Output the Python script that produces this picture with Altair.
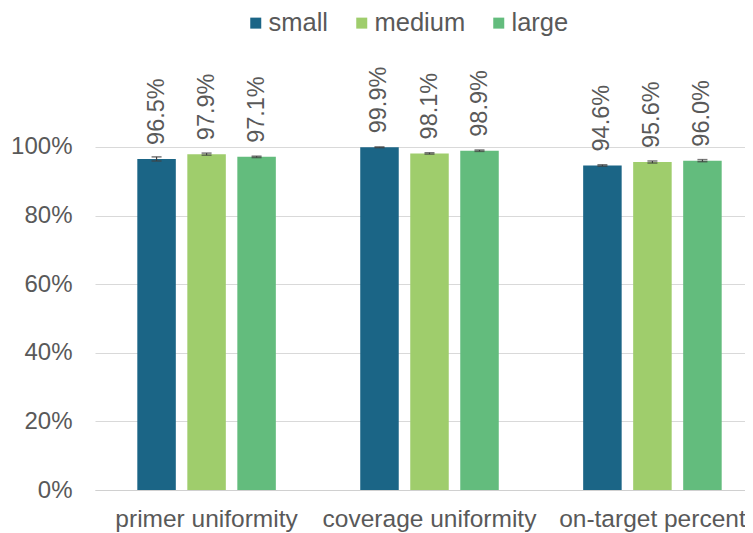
import altair as alt
import pandas as pd

categories = ["primer uniformity", "coverage uniformity", "on-target percent"]
sizes = ["small", "medium", "large"]
small_vals = [0.965, 0.999, 0.946]
medium_vals = [0.979, 0.981, 0.956]
large_vals = [0.971, 0.989, 0.960]
small_err = [0.006, 0.001, 0.002]
medium_err = [0.003, 0.002, 0.003]
large_err = [0.002, 0.002, 0.003]
colors = ["#1b6586", "#9fcd6c", "#63bc7d"]

rows = []
for s, vals, errs in zip(sizes, [small_vals, medium_vals, large_vals], [small_err, medium_err, large_err]):
    for c, v, e in zip(categories, vals, errs):
        rows.append({"category": c, "size": s, "value": v, "lo": v - e, "hi": v + e,
                     "label": f"{v*100:.1f}%"})
df = pd.DataFrame(rows)

FONT = "Liberation Sans"
GRAY = "#595959"

x = alt.X("category:N", sort=categories,
          scale=alt.Scale(paddingInner=0.327, paddingOuter=0.164, range=[0, 669]),
          axis=alt.Axis(title=None, labelAngle=0, labelFontSize=24.5, labelColor=GRAY,
                        labelFont=FONT, ticks=False, grid=False, domainColor="#d0d0d0",
                        labelPadding=17, labelLimit=0))
xo = alt.XOffset("size:N", sort=sizes, scale=alt.Scale(paddingInner=0.23, paddingOuter=0.115))
y_scale = alt.Scale(domain=[0, 1.3], nice=False)

base = alt.Chart(df)

bars = base.mark_bar().encode(
    x=x, xOffset=xo,
    y=alt.Y("value:Q", scale=y_scale,
            axis=alt.Axis(title=None, values=[0, 0.2, 0.4, 0.6, 0.8, 1.0], format=".0%",
                          labelFontSize=24, labelColor=GRAY, labelFont=FONT,
                          ticks=False, domain=False, gridColor="#d9d9d9",
                          labelPadding=23)),
    color=alt.Color("size:N", sort=sizes, scale=alt.Scale(domain=sizes, range=colors),
                    legend=alt.Legend(title=None, orient="none", direction="horizontal",
                                      legendX=144, legendY=-34, padding=0,
                                      symbolType="square", symbolSize=121, symbolStrokeWidth=0,
                                      symbolOffset=4,
                                      labelFontSize=25.5, labelColor=GRAY, labelFont=FONT,
                                      columnPadding=16, labelOffset=0)),
)

err = base.mark_rule(color="#404040", strokeWidth=1.2).encode(
    x=x, xOffset=xo, y=alt.Y("lo:Q", scale=y_scale), y2="hi:Q")

caps_hi = base.mark_tick(color="#404040", size=10, thickness=1.5, orient="horizontal").encode(
    x=x, xOffset=xo, y=alt.Y("hi:Q", scale=y_scale))
caps_lo = base.mark_tick(color="#404040", size=10, thickness=1.5, orient="horizontal").encode(
    x=x, xOffset=xo, y=alt.Y("lo:Q", scale=y_scale))

labels = base.mark_text(angle=270, align="left", baseline="middle", dx=14,
                        fontSize=23.5, color=GRAY, font=FONT).encode(
    x=x, xOffset=xo, y=alt.Y("value:Q", scale=y_scale), text="label:N")

chart = alt.layer(bars, err, caps_hi, caps_lo, labels).properties(
    width=650, height=446,
    autosize=alt.AutoSizeParams(type="none"),
    padding={"left": 87, "top": 36, "right": 0, "bottom": 43},
).configure_view(stroke=None).configure_axisY(domain=False).configure_axisX(grid=False)

chart.save("out.html", embed_options={"renderer": "svg", "actions": False})
